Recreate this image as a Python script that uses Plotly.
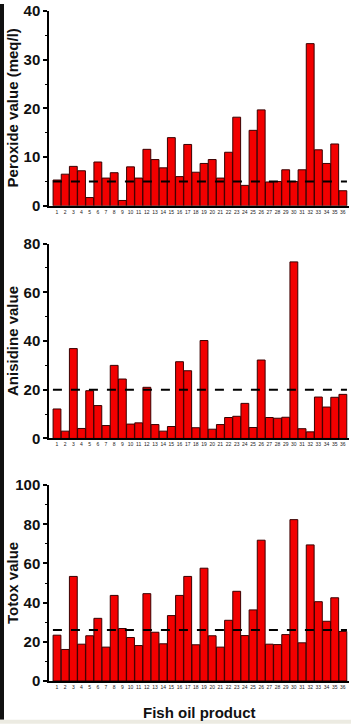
import plotly.graph_objects as go

products = list(range(1, 37))
tick_labels = [str(i) for i in products]

peroxide = [5.3, 6.5, 8.1, 7.2, 1.7, 9.0, 5.7, 6.8, 1.1, 8.0, 5.7, 11.6, 9.5, 7.8, 14.0,
            6.0, 12.6, 6.9, 8.7, 9.5, 5.7, 11.0, 18.2, 4.2, 15.5, 19.7, 4.9, 5.0, 7.4, 5.0,
            7.4, 33.3, 11.5, 8.7, 12.7, 3.1]
anisidine = [12.1, 3.0, 36.9, 4.1, 19.6, 13.5, 5.3, 30.0, 24.4, 5.9, 6.4, 21.0, 5.7, 3.0, 4.9,
             31.5, 27.8, 4.4, 40.2, 3.8, 5.7, 8.6, 9.1, 14.4, 4.5, 32.2, 8.6, 8.3, 8.7, 72.5,
             4.0, 2.7, 17.0, 12.9, 16.9, 18.1]
totox = [23.4, 16.1, 53.4, 18.8, 23.1, 32.0, 17.3, 43.7, 26.8, 22.2, 18.1, 44.6, 24.9, 19.0, 33.4,
         43.7, 53.4, 18.5, 57.6, 23.1, 17.3, 31.0, 45.8, 23.2, 36.3, 71.9, 18.8, 18.6, 23.7, 82.4,
         19.5, 69.5, 40.5, 30.5, 42.5, 25.3]

limits = [5, 20, 26]
y_titles = ["Peroxide value (meq/l)", "Anisidine value", "Totox value"]
y_ranges = [[0, 40], [0, 80], [0, 100]]
y_dticks = [10, 20, 20]
series = [peroxide, anisidine, totox]
x_title = "Fish oil product"

W, H = 351, 724
ml, mr, mt, mb = 49, 2, 7, 43
plot_h = H - mt - mb
# panel pixel extents (top, bottom)
panels_px = [(7, 203), (241, 437), (484, 681)]
domains = [[(H - mb - b) / plot_h, (H - mb - t) / plot_h] for t, b in panels_px]

FONT = "Liberation Sans"
fig = go.Figure()
for i, (vals, lim) in enumerate(zip(series, limits)):
    n = "" if i == 0 else str(i + 1)
    fig.add_trace(go.Bar(
        x=products, y=vals, xaxis="x" + n, yaxis="y" + n,
        marker=dict(color="#f20000", line=dict(color="#3a0000", width=1)),
        showlegend=False,
    ))
    fig.add_shape(type="line", xref="x" + n, yref="y" + n,
                  x0=0.5, x1=36.5, y0=lim, y1=lim,
                  line=dict(color="black", width=2, dash="dash"))
    ax = dict(
        range=[0.02, 36.75], tickmode="array", tickvals=products, ticktext=tick_labels,
        tickfont=dict(size=5, family=FONT, color="#222"), ticks="", ticklen=0,
        showline=True, linecolor="black", linewidth=1.5, showgrid=False, zeroline=False,
        anchor="y" + n,
    )
    ay = dict(
        domain=domains[i], range=y_ranges[i], dtick=y_dticks[i], tick0=0,
        ticks="outside", ticklen=4, tickwidth=1.5, tickcolor="black",
        minor=dict(ticks="outside", dtick=y_dticks[i] / 2, ticklen=2, tickwidth=1, tickcolor="black"),
        tickfont=dict(size=15, family=FONT, color="#111", weight="bold"),
        showline=True, linecolor="black", linewidth=1.5, showgrid=False, zeroline=False,
        anchor="x" + n,
    )
    fig.layout["xaxis" + n] = ax
    fig.layout["yaxis" + n] = ay
    fig.add_annotation(
        text=y_titles[i], textangle=-90, xref="paper", yref="paper",
        x=0, y=sum(domains[i]) / 2, xanchor="center", yanchor="middle", xshift=-37,
        showarrow=False, font=dict(size=15, family=FONT, color="#111", weight="bold"),
    )

fig.add_annotation(
    text=x_title, xref="paper", yref="paper", x=0.5, y=0, yshift=-31,
    xanchor="center", yanchor="middle", showarrow=False,
    font=dict(size=15, family=FONT, color="#111", weight="bold"),
)

# image border strips (left dark edge, bottom light strip)
fig.add_shape(type="rect", xref="paper", yref="paper", x0=-ml / (W - ml - mr), x1=(4 - ml) / (W - ml - mr),
              y0=(H - mb - 720) / plot_h, y1=1 + mt / plot_h, fillcolor="#111", line=dict(width=0), layer="above")
fig.add_shape(type="rect", xref="paper", yref="paper", x0=-ml / (W - ml - mr), x1=1 + mr / (W - ml - mr),
              y0=-mb / plot_h, y1=(H - mb - 720) / plot_h, fillcolor="#ecebe2", line=dict(width=0), layer="above")

fig.update_layout(
    width=W, height=H, margin=dict(l=ml, r=mr, t=mt, b=mb),
    paper_bgcolor="white", plot_bgcolor="white", bargap=0.04,
)
fig.write_html("out.html")
